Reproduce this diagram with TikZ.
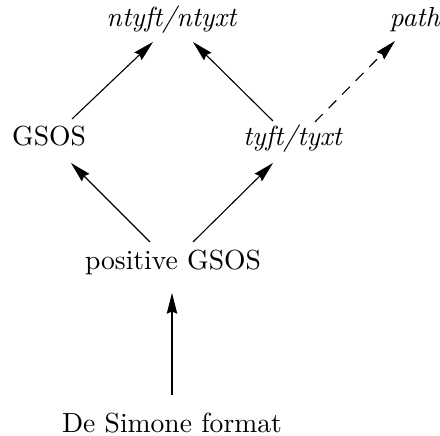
\documentclass[tikz,border=0pt]{standalone}
\usetikzlibrary{arrows.meta}
\begin{document}
\begin{tikzpicture}[x=0.3623pt,y=-0.3623pt,
  lbl/.style={inner sep=0pt,anchor=base},
  conn/.style={line width=0.4pt,-{Stealth[length=7.5pt,width=3.8pt,inset=0.8pt]}},
  dconn/.style={conn,dash pattern=on 4pt off 3pt}]
\useasboundingbox (0,0) rectangle (440,436);
\node[lbl] (nt) at (172,27) {\textit{ntyft/ntyxt}};
\node[lbl] (pa) at (415,27) {\textit{path}};
\node[lbl] (gs) at (49,146) {GSOS};
\node[lbl] (ty) at (293,146) {\textit{tyft/tyxt}};
\node[lbl] (po) at (173,270) {positive GSOS};
\node[lbl] (de) at (172,433) {De Simone format};
\draw[conn] ([shift={(23,-27)}]gs.base) -- ([shift={(-19,15)}]nt.base);
\draw[conn] ([shift={(-20,-25)}]ty.base) -- ([shift={(21,15)}]nt.base);
\draw[dconn] ([shift={(22,-24)}]ty.base) -- ([shift={(-20,14)}]pa.base);
\draw[conn] ([shift={(-23,-28)}]po.base) -- ([shift={(22,17)}]gs.base);
\draw[conn] ([shift={(20,-28)}]po.base) -- ([shift={(-20,17)}]ty.base);
\draw[conn] ([shift={(0,-38)}]de.base) -- ([shift={(-1,23)}]po.base);
\end{tikzpicture}
\end{document}
